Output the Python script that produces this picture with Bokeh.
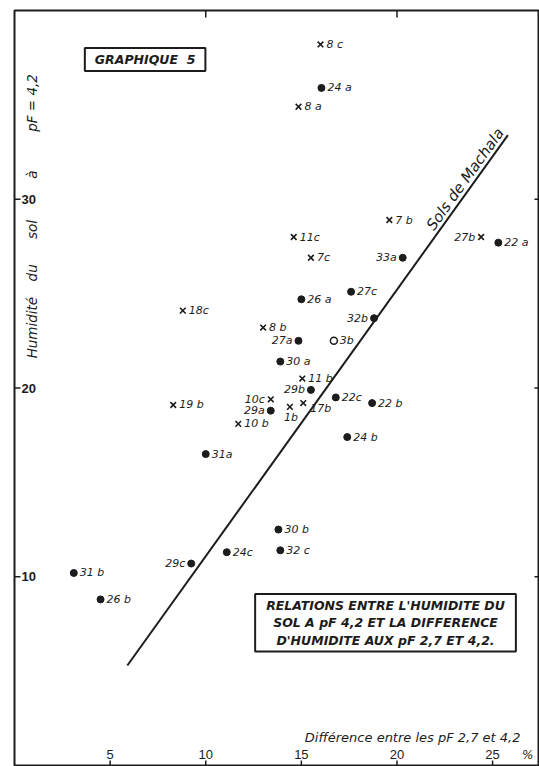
import math
from bokeh.plotting import figure
from bokeh.models import Label, Range1d, ColumnDataSource
from bokeh.core.properties import value
from bokeh.embed import file_html
from bokeh.resources import INLINE

# ---------------- data ----------------
sample_ids = ["8 c", "24 a", "8 a", "7 b", "11c", "27b", "22 a", "7c", "33a", "26 a",
              "27c", "32b", "18c", "8 b", "27a", "3b", "30 a", "11 b", "29b", "22c",
              "22 b", "10c", "29a", "10 b", "1b", "17b", "19 b", "24 b", "31a", "30 b",
              "32 c", "24c", "29c", "31 b", "26 b"]
diff_pf = [16.0, 16.05, 14.85, 19.6, 14.6, 24.4, 25.3, 15.5, 20.3, 15.0,
           17.6, 18.8, 8.8, 13.0, 14.85, 16.7, 13.9, 15.05, 15.5, 16.8,
           18.7, 13.4, 13.4, 11.7, 14.4, 15.1, 8.3, 17.4, 10.0, 13.8,
           13.9, 11.1, 9.24, 3.1, 4.5]
hum_pf42 = [38.2, 35.9, 34.9, 28.9, 28.0, 28.0, 27.7, 26.9, 26.9, 24.7,
            25.1, 23.7, 24.1, 23.2, 22.5, 22.5, 21.4, 20.5, 19.9, 19.5,
            19.2, 19.4, 18.8, 18.1, 19.0, 19.2, 19.1, 17.4, 16.5, 12.5,
            11.4, 11.3, 10.7, 10.2, 8.8]
sample_kind = ["x", "dot", "x", "x", "x", "x", "dot", "x", "dot", "dot",
               "dot", "dot", "x", "x", "dot", "open", "dot", "x", "dot", "dot",
               "dot", "x", "dot", "x", "x", "x", "x", "dot", "dot", "dot",
               "dot", "dot", "dot", "dot", "dot"]

x_ticks = [5, 10, 15, 20, 25]
y_ticks = [10, 20, 30]
top_ticks = [10, 20]
right_ticks = [10, 20, 30]

trend_x = [5.9, 25.8]
trend_y = [5.3, 33.4]

# ---------------- layout / style ----------------
INK = "#1c1c1c"
FONT = "DejaVu Sans"
X0, X1 = 0.0, 27.4
Y0, Y1 = 0.0, 40.0
W, H = 539, 766
BL, BT, BR, BB = 14, 10, 1, 1

LEFT_LABELS = {"27b", "33a", "32b", "27a", "29b", "10c", "29a", "29c"}
BELOW_LABELS = {"1b"}
LOWRIGHT_LABELS = {"17b"}

aligns, xoffs, yoffs = [], [], []
for s in sample_ids:
    if s in LEFT_LABELS:
        aligns.append("right"); xoffs.append(-6); yoffs.append(0)
    elif s in BELOW_LABELS:
        aligns.append("center"); xoffs.append(1); yoffs.append(11)
    elif s in LOWRIGHT_LABELS:
        aligns.append("left"); xoffs.append(7); yoffs.append(5)
    else:
        aligns.append("left"); xoffs.append(6); yoffs.append(0)

src = ColumnDataSource(dict(x=diff_pf, y=hum_pf42, label=sample_ids,
                            align=aligns, xoff=xoffs, yoff=yoffs))

p = figure(width=W, height=H, x_range=Range1d(X0, X1), y_range=Range1d(Y0, Y1),
           x_axis_type=None, y_axis_type=None, output_backend="svg",
           toolbar_location=None, min_border=0, min_border_left=BL, min_border_top=BT,
           min_border_right=BR, min_border_bottom=BB)
p.outline_line_color = INK
p.outline_line_width = 2
p.background_fill_color = "white"
p.border_fill_color = "white"

# trend line
p.line(trend_x, trend_y, line_color=INK, line_width=2)

# markers
def subset(kind):
    idx = [i for i, k in enumerate(sample_kind) if k == kind]
    return [diff_pf[i] for i in idx], [hum_pf42[i] for i in idx]

xx, yy = subset("x")
p.scatter(xx, yy, marker="x", size=8, line_color=INK, line_width=1.6)
xx, yy = subset("dot")
p.scatter(xx, yy, marker="circle", size=7, fill_color=INK, line_color=INK)
xx, yy = subset("open")
p.scatter(xx, yy, marker="circle", size=7, fill_color="white", line_color=INK, line_width=1.5)

# point labels
p.text(x="x", y="y", text="label", source=src, x_offset="xoff", y_offset="yoff",
       text_align="align", text_baseline="middle", text_color=INK,
       text_font=value(FONT), text_font_size="11px", text_font_style="italic")

# ticks
p.ray(x=[X0] * len(y_ticks), y=y_ticks, length=6, length_units="screen", angle=0,
      line_color=INK, line_width=1.5)
p.ray(x=x_ticks, y=[Y0] * len(x_ticks), length=5, length_units="screen", angle=math.pi / 2,
      line_color=INK, line_width=1.5)
p.ray(x=top_ticks, y=[Y1] * len(top_ticks), length=7, length_units="screen", angle=-math.pi / 2,
      line_color=INK, line_width=1.5)
p.ray(x=[X1] * len(right_ticks), y=right_ticks, length=4, length_units="screen", angle=math.pi,
      line_color=INK, line_width=1.5)

# tick labels
p.text(x=[X0] * len(y_ticks), y=y_ticks, text=[str(v) for v in y_ticks], x_offset=7,
       text_align="left", text_baseline="middle", text_color=INK,
       text_font=value("Liberation Sans"), text_font_size="13px", text_font_style="bold")
p.text(x=x_ticks, y=[Y0] * len(x_ticks), text=[str(v) for v in x_ticks], y_offset=-11,
       text_align="center", text_baseline="middle", text_color=INK,
       text_font=value("Liberation Sans"), text_font_size="13px")
p.text(x=[26.83], y=[Y0], text=["%"], y_offset=-11, text_align="center",
       text_baseline="middle", text_color=INK, text_font=value(FONT),
       text_font_size="12px", text_font_style="italic")

# axis titles
p.text(x=[26.46], y=[1.46], text=["Différence entre les pF 2,7 et 4,2"], text_align="right",
       text_baseline="middle", text_color=INK, text_font=value(FONT),
       text_font_size="13px", text_font_style="italic")

y_words = ["Humidité", "du", "sol", "à", "pF = 4,2"]
y_word_pos = [23.2, 26.1, 28.4, 31.3, 35.1]
p.text(x=[0.9] * len(y_words), y=y_word_pos, text=y_words, angle=math.pi / 2,
       text_align="center", text_baseline="middle", text_color=INK,
       text_font=value(FONT), text_font_size="13.5px", text_font_style="italic")

# trend label along the line
sx = (W - BL - BR) / (X1 - X0)
sy = (H - BT - BB) / (Y1 - Y0)
ang = math.atan2((trend_y[1] - trend_y[0]) * sy, (trend_x[1] - trend_x[0]) * sx)
lx = 23.95
ly = trend_y[0] + (lx - trend_x[0]) * (trend_y[1] - trend_y[0]) / (trend_x[1] - trend_x[0])
p.add_layout(Label(x=lx, y=ly, text="Sols de Machala", angle=ang, text_align="center",
                   text_baseline="bottom", text_color=INK, text_font=FONT,
                   text_font_size="15px", text_font_style="italic"))

# boxed titles
p.add_layout(Label(x=6.83, y=37.4, text="GRAPHIQUE\u00a0\u00a05", text_align="center",
                   text_baseline="middle", text_color=INK, text_font=FONT,
                   text_font_size="12.5px", text_font_style="bold italic",
                   border_line_color=INK, border_line_width=2,
                   background_fill_color="white", padding=(10, 4)))
p.add_layout(Label(x=19.4, y=7.56,
                   text="RELATIONS ENTRE L'HUMIDITE DU\nSOL A pF 4,2 ET LA DIFFERENCE\nD'HUMIDITE AUX pF 2,7 ET 4,2.",
                   text_align="center", text_baseline="middle", text_color=INK,
                   text_font=FONT, text_font_size="12.5px",
                   text_font_style="bold italic", text_line_height=1.15,
                   border_line_color=INK, border_line_width=2,
                   background_fill_color="white", padding=(11, 4)))

open("out.html", "w").write(file_html(p, INLINE))
